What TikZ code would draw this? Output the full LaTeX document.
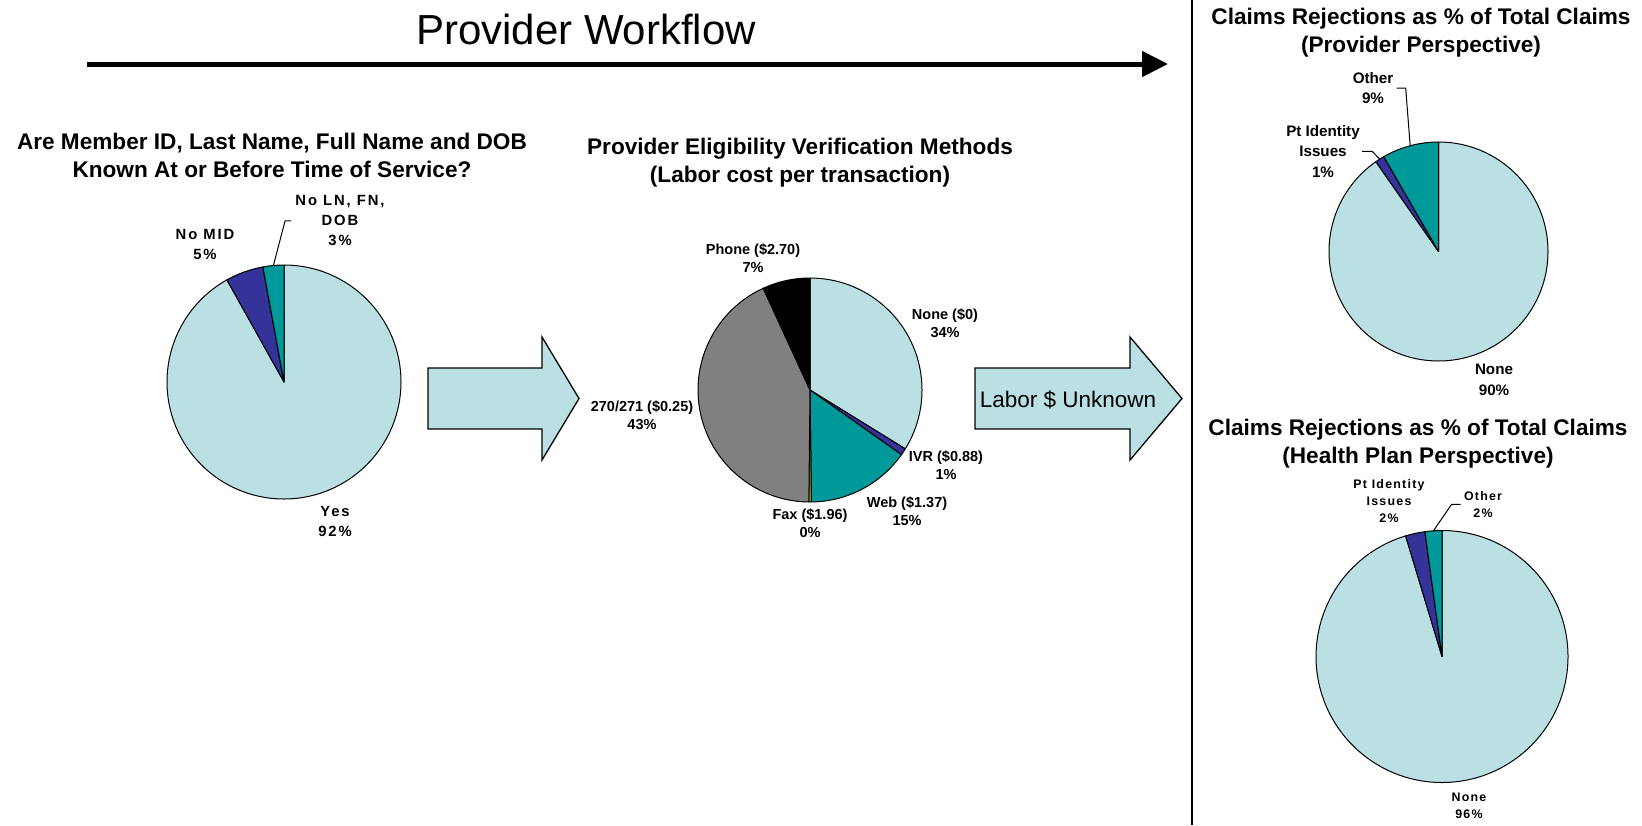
\documentclass[tikz,border=0pt]{standalone}
\usepackage{fontspec}
\setmainfont{Liberation Sans}
\newfontfamily\spacedsans[LetterSpace=13]{Liberation Sans}
\newfontfamily\lightspaced[LetterSpace=10]{Liberation Sans}
\usetikzlibrary{arrows.meta}

\definecolor{pieLight}{RGB}{187,224,227}
\definecolor{pieIndigo}{RGB}{51,51,153}
\definecolor{pieTeal}{RGB}{0,153,153}
\definecolor{pieGray}{RGB}{128,128,128}
\definecolor{pieOlive}{RGB}{153,153,51}

\tikzset{
  slice/.style={draw=black, line width=0.5pt, line join=round},
  leader/.style={draw=black, line width=0.5pt},
  blockarrow/.style={fill=pieLight, draw=black, line width=0.65pt, line join=miter},
  charttitle/.style={anchor=north, align=center, inner sep=0pt,
    font=\bfseries\fontsize{11.3}{14}\selectfont},
  pielabel/.style={anchor=north, align=center, inner sep=0pt},
  labA/.style={pielabel, font=\spacedsans\bfseries\fontsize{7.4}{10}\selectfont},
  labB/.style={pielabel, font=\bfseries\fontsize{7.25}{9}\selectfont},
  labC/.style={pielabel, font=\bfseries\fontsize{7.6}{10.25}\selectfont},
  labD/.style={pielabel, font=\lightspaced\bfseries\fontsize{6.2}{8.5}\selectfont},
}

% one pie slice: centre, radius, start angle, end angle, fill colour
% (y runs downwards, so increasing angles turn clockwise, -90 is twelve o'clock)
\newcommand\pieslice[5]{%
  \filldraw[slice, fill=#5] (#1) -- ++(#3:#2)
    arc[start angle=#3, end angle=#4, radius=#2] -- cycle;}

\begin{document}
\begin{tikzpicture}[x=0.5pt, y=-0.5pt]
\useasboundingbox (0,0) rectangle (1642,825);
\fill[white] (0,0) rectangle (1642,825);

% ---- workflow heading and arrow ----
\node[anchor=base, inner sep=0pt, font=\fontsize{21}{25}\selectfont] (wftitle) at (586,44) {Provider Workflow};
\coordinate (wfstart) at (87,64);
\coordinate (wfend) at (1168,64);
\draw[line width=2.5pt, -{Triangle[length=13pt,width=12.5pt]}] (wfstart) -- (wfend);

% ---- divider of the right-hand panel ----
\coordinate (divtop) at (1192,0);
\coordinate (divbot) at (1192,825);
\draw[line width=0.8pt] (divtop) -- (divbot);

% ---- chart 1: identification data known ----
\node[charttitle] (t1) at (272,132.6) {Are Member ID, Last Name, Full Name and DOB\\Known At or Before Time of Service?};
\coordinate (c1) at (284,382);
\pieslice{c1}{117}{-90}{240.8}{pieLight}
\pieslice{c1}{117}{240.8}{259.6}{pieIndigo}
\pieslice{c1}{117}{259.6}{270}{pieTeal}
\node[labA] (l1a) at (205,229.4) {No MID\\5\%};
\node[labA] (l1c) at (340,195.4) {No LN, FN,\\DOB\\3\%};
\node[labA] (l1y) at (335,506.4) {Yes\\92\%};
\path (c1) ++(264.8:117) coordinate (p1c);
\draw[leader] ([xshift=-2pt]l1c.west) -- ++(-3pt,0) -- (p1c);

% ---- block arrow 1 ----
\filldraw[blockarrow] (428,368) -- (542,368) -- (542,337) -- (579,398.5)
  -- (542,460) -- (542,429) -- (428,429) -- cycle;

% ---- chart 2: eligibility verification methods ----
\node[charttitle] (t2) at (800,137.6) {Provider Eligibility Verification Methods\\(Labor cost per transaction)};
\coordinate (c2) at (810,390);
\pieslice{c2}{112}{-90}{31.7}{pieLight}
\pieslice{c2}{112}{31.7}{35.3}{pieIndigo}
\pieslice{c2}{112}{35.3}{89.3}{pieTeal}
\pieslice{c2}{112}{89.3}{90.6}{pieOlive}
\pieslice{c2}{112}{90.6}{245.3}{pieGray}
\pieslice{c2}{112}{245.3}{270}{black}
\node[labB] (l2ph) at (753,243.4) {Phone (\$2.70)\\7\%};
\node[labB] (l2no) at (945,308.4) {None (\$0)\\34\%};
\node[labB] (l2ed) at (642,400.4) {270/271 (\$0.25)\\43\%};
\node[labB] (l2iv) at (946,450.4) {IVR (\$0.88)\\1\%};
\node[labB] (l2we) at (907,496.4) {Web (\$1.37)\\15\%};
\node[labB] (l2fx) at (810,508.4) {Fax (\$1.96)\\0\%};

% ---- block arrow 2 ----
\filldraw[blockarrow] (975,368) -- (1130,368) -- (1130,337) -- (1182,398.5)
  -- (1130,460) -- (1130,429) -- (975,429) -- cycle;
\node[anchor=base, inner sep=0pt, font=\fontsize{11.25}{13}\selectfont] (labor) at (1068,407) {Labor \$ Unknown};

% ---- chart 3: rejections, provider view ----
\node[charttitle] (t3) at (1421,7.6) {Claims Rejections as \% of Total Claims\\(Provider Perspective)};
\coordinate (c3) at (1438.5,251.5);
\pieslice{c3}{109.5}{-90}{235.1}{pieLight}
\pieslice{c3}{109.5}{235.1}{240}{pieIndigo}
\pieslice{c3}{109.5}{240}{270}{pieTeal}
\node[labC] (l3o) at (1373,71.8) {Other\\9\%};
\node[labC] (l3p) at (1323,124.8) {Pt Identity\\Issues\\1\%};
\node[labC] (l3n) at (1494,363.8) {None\\90\%};
\path (c3) ++(255:109.5) coordinate (p3o);
\path (c3) ++(237.5:109.5) coordinate (p3p);
\draw[leader] ([xshift=1.5pt]l3o.east) -- ++(4.5pt,0) -- (p3o);
\draw[leader] ([xshift=1pt]l3p.east) -- ++(5pt,0) -- (p3p);

% ---- chart 4: rejections, health plan view ----
\node[charttitle] (t4) at (1418,418.6) {Claims Rejections as \% of Total Claims\\(Health Plan Perspective)};
\coordinate (c4) at (1442,656.5);
\pieslice{c4}{126}{-90}{253.2}{pieLight}
\pieslice{c4}{126}{253.2}{262.2}{pieIndigo}
\pieslice{c4}{126}{262.2}{270}{pieTeal}
\node[labD] (l4p) at (1389,478.9) {Pt Identity\\Issues\\2\%};
\node[labD] (l4o) at (1483,490.9) {Other\\2\%};
\node[labD] (l4n) at (1469,792.9) {None\\96\%};
\path (c4) ++(266.1:126) coordinate (p4o);
\draw[leader] ([xshift=-1.5pt]l4o.west) -- ++(-4.5pt,0) -- (p4o);
\end{tikzpicture}
\end{document}
